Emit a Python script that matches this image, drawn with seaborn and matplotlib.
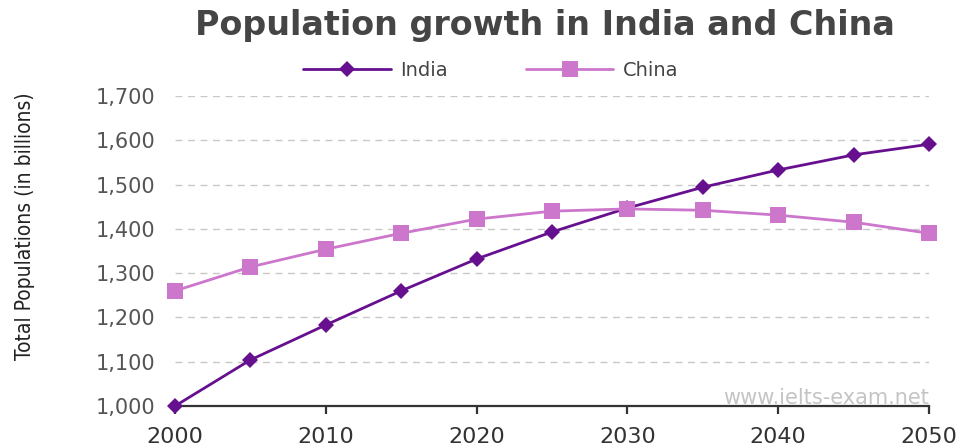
import matplotlib
matplotlib.use("Agg")
import matplotlib.pyplot as plt
import seaborn as sns
import pandas as pd
from matplotlib.ticker import FuncFormatter

years = [2000, 2005, 2010, 2015, 2020, 2025, 2030, 2035, 2040, 2045, 2050]
india = [1000, 1104, 1183, 1260, 1332, 1393, 1447, 1494, 1533, 1567, 1591]
china = [1260, 1314, 1354, 1390, 1422, 1440, 1445, 1442, 1431, 1415, 1390]
series_names = ["India", "China"]
title = "Population growth in India and China"
ylabel = "Total Populations (in billions)"
yticks = [1000, 1100, 1200, 1300, 1400, 1500, 1600, 1700]
xticks = [2000, 2010, 2020, 2030, 2040, 2050]

df = pd.DataFrame({
    "Year": years * 2,
    "Population": india + china,
    "Country": ["India"] * len(years) + ["China"] * len(years),
})

sns.set_theme(style="white")
plt.rcParams["font.family"] = ["DejaVu Sans"]

fig = plt.figure(figsize=(9.66, 4.48), dpi=100)
ax = fig.add_axes([175 / 966, 42 / 448, (929 - 175) / 966, (406 - 96) / 448])

colors = {"India": "#66108f", "China": "#cc77cc"}
markers = {"India": "D", "China": "s"}
sizes = {"India": 8, "China": 12}
for name in series_names:
    sub = df[df["Country"] == name]
    sns.lineplot(data=sub, x="Year", y="Population", ax=ax, color=colors[name],
                 marker=markers[name], markersize=sizes[name], markeredgewidth=0,
                 linewidth=2, label=name, clip_on=False, zorder=5)

ax.set_xlim(2000, 2050)
ax.set_ylim(1000, 1700)
ax.set_yticks(yticks)
ax.set_xticks(xticks)
ax.yaxis.set_major_formatter(FuncFormatter(lambda v, p: f"{int(v):,}"))
for y in yticks[1:]:
    ax.axhline(y, color="#c8c8c8", linestyle=(0, (5, 4)), linewidth=1, zorder=1)

for s in ["top", "right", "left"]:
    ax.spines[s].set_visible(False)
ax.spines["bottom"].set_color("#333333")
ax.spines["bottom"].set_linewidth(1.6)
ax.tick_params(axis="x", direction="out", length=6, width=1.6, color="#333333",
               labelsize=16, labelcolor="#333333", pad=9, bottom=True)
ax.tick_params(axis="y", length=0, labelsize=15, labelcolor="#555555", pad=14, left=False)
ax.set_xlabel("")
ax.set_ylabel("")

fig.text(25 / 966, 1 - 226 / 448, ylabel, rotation=90, ha="center", va="center",
         fontsize=15, color="#222222", fontstretch="condensed",
         family=["DejaVu Sans", "Liberation Sans"])

fig.text(545 / 966, 1 - 26 / 448, title, ha="center", va="center",
         fontsize=24, fontweight="bold", color="#454545",
         family=["DejaVu Sans"])

leg = ax.legend(loc="center", bbox_to_anchor=(491 / 966, 1 - 70 / 448),
                bbox_transform=fig.transFigure, ncol=2, frameon=False,
                fontsize=14, handlelength=4.5, columnspacing=4, handletextpad=0.5)
for t in leg.get_texts():
    t.set_color("#444444")

fig.text(929 / 966, 1 - 398 / 448, "www.ielts-exam.net", ha="right", va="center",
         fontsize=15, color="#c4c4c4")

fig.savefig("out.png", dpi=100)
